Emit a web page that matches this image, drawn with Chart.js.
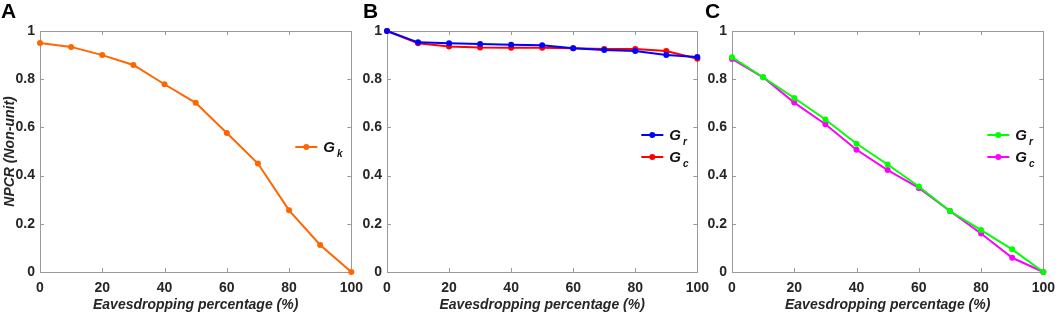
<!DOCTYPE html>
<html>
<head>
<meta charset="utf-8">
<script src="https://cdn.jsdelivr.net/npm/chart.js@4.4.1/dist/chart.umd.min.js"></script>
<style>
  html, body { margin: 0; padding: 0; background: #fff; overflow: hidden; }
  body { width: 1059px; height: 314px; position: relative; }
  .panel { position: absolute; top: 0; }
  .tag { position: absolute; top: 0; font: bold 21px "Liberation Sans", Arial, sans-serif; line-height: 1; color: #000; }
</style>
</head>
<body>
<div class="panel" style="left:0px"><canvas id="chartA" width="371" height="314"></canvas></div>
<div class="panel" style="left:350px"><canvas id="chartB" width="367" height="314"></canvas></div>
<div class="panel" style="left:700px"><canvas id="chartC" width="363" height="314"></canvas></div>
<div class="tag" style="left:1px">A</div>
<div class="tag" style="left:363px">B</div>
<div class="tag" style="left:705px">C</div>
<script>
(function() {
  'use strict';

  // eavesdropping percentage on the x axis
  var percent = [0, 10, 20, 30, 40, 50, 60, 70, 80, 90, 100];

  // panel A
  var gkValues = [0.950, 0.934, 0.900, 0.859, 0.779, 0.702, 0.577, 0.450, 0.256, 0.112, 0.0];
  // panel B
  var grValuesB = [1.0, 0.953, 0.949, 0.946, 0.943, 0.941, 0.928, 0.921, 0.917, 0.900, 0.892];
  var gcValuesB = [1.0, 0.949, 0.936, 0.932, 0.931, 0.930, 0.928, 0.925, 0.925, 0.917, 0.885];
  // panel C
  var grValuesC = [0.891, 0.808, 0.722, 0.633, 0.532, 0.446, 0.355, 0.253, 0.174, 0.094, 0.0];
  var gcValuesC = [0.884, 0.808, 0.703, 0.613, 0.507, 0.423, 0.349, 0.253, 0.160, 0.059, 0.0];

  var xTicks = [0, 20, 40, 60, 80, 100];
  var yTicks = [0, 0.2, 0.4, 0.6, 0.8, 1];
  var xTitle = 'Eavesdropping percentage (%)';
  var yTitle = 'NPCR (Non-unit)';

  var FONT = '"Liberation Sans", Arial, sans-serif';
  var TEXT = '#262626';
  var AXIS = '#9a9a9a';

  function points(vals) {
    return vals.map(function(v, i) { return { x: percent[i], y: v }; });
  }

  function series(label, sub, vals, color) {
    return {
      label: label,
      sub: sub,
      data: points(vals),
      borderColor: color,
      backgroundColor: color,
      borderWidth: 2,
      pointRadius: 3,
      pointBorderWidth: 0,
      pointBackgroundColor: color,
      tension: 0,
      clip: false
    };
  }

  // MATLAB style box with inward ticks, drawn under the lines
  var boxPlugin = {
    id: 'boxTicks',
    beforeDatasetsDraw: function(chart) {
      var ctx = chart.ctx, a = chart.chartArea;
      var xs = chart.scales.x, ys = chart.scales.y;
      ctx.save();
      ctx.strokeStyle = AXIS;
      ctx.lineWidth = 1;
      ctx.strokeRect(Math.round(a.left) + 0.5, Math.round(a.top) + 0.5,
        Math.round(a.right - a.left), Math.round(a.bottom - a.top));
      ctx.beginPath();
      xTicks.forEach(function(v) {
        var px = Math.round(xs.getPixelForValue(v)) + 0.5;
        ctx.moveTo(px, a.bottom); ctx.lineTo(px, a.bottom - 4);
        ctx.moveTo(px, a.top); ctx.lineTo(px, a.top + 4);
      });
      yTicks.forEach(function(v) {
        var py = Math.round(ys.getPixelForValue(v)) + 0.5;
        ctx.moveTo(a.left, py); ctx.lineTo(a.left + 4, py);
        ctx.moveTo(a.right, py); ctx.lineTo(a.right - 4, py);
      });
      ctx.stroke();
      ctx.restore();
    }
  };

  // legend with subscripted names
  var legendPlugin = {
    id: 'subLegend',
    afterDraw: function(chart) {
      var opts = chart.options.plugins.subLegend;
      var ctx = chart.ctx, a = chart.chartArea;
      ctx.save();
      chart.data.datasets.forEach(function(ds, i) {
        var y = a.top + opts.top + i * 22;
        var x0 = a.right - 56, x1 = a.right - 34;
        ctx.strokeStyle = ds.borderColor;
        ctx.lineWidth = 2;
        ctx.beginPath();
        ctx.moveTo(x0, y); ctx.lineTo(x1, y);
        ctx.stroke();
        ctx.fillStyle = ds.borderColor;
        ctx.beginPath();
        ctx.arc((x0 + x1) / 2, y, 3, 0, Math.PI * 2);
        ctx.fill();
        ctx.fillStyle = '#111';
        ctx.textBaseline = 'alphabetic';
        ctx.textAlign = 'left';
        ctx.font = 'italic bold 15px ' + FONT;
        var tx = a.right - 28;
        ctx.fillText(ds.label, tx, y + 5);
        var w = ctx.measureText(ds.label).width;
        ctx.font = 'italic bold 10px ' + FONT;
        ctx.fillText(ds.sub, tx + w + 2, y + 10);
      });
      ctx.restore();
    }
  };

  function makeChart(id, datasets, yWidth, showYTitle, legendTop) {
    var canvas = document.getElementById(id);
    var tickFont = { family: FONT, size: 14, weight: 'bold' };
    var titleFont = { family: FONT, size: 14, weight: 'bold', style: 'italic' };
    return new Chart(canvas.getContext('2d'), {
      type: 'line',
      data: { datasets: datasets },
      options: {
        responsive: false,
        animation: false,
        layout: { padding: { top: 31, right: 14, left: 0, bottom: 0 } },
        plugins: {
          legend: { display: false },
          tooltip: { enabled: false },
          subLegend: { top: legendTop }
        },
        scales: {
          x: {
            type: 'linear',
            min: 0,
            max: 100,
            afterBuildTicks: function(s) { s.ticks = xTicks.map(function(v) { return { value: v }; }); },
            grid: { display: false, drawTicks: false },
            border: { display: false },
            ticks: { font: tickFont, color: TEXT, padding: 8, maxRotation: 0, autoSkip: false },
            title: { display: true, text: xTitle, font: titleFont, color: TEXT, padding: { top: 0, bottom: 0 } },
            afterFit: function(s) { s.height = 42; }
          },
          y: {
            type: 'linear',
            min: 0,
            max: 1,
            afterBuildTicks: function(s) { s.ticks = yTicks.map(function(v) { return { value: v }; }); },
            grid: { display: false, drawTicks: false },
            border: { display: false },
            ticks: {
              font: tickFont, color: TEXT, padding: 5,
              callback: function(v) { return String(Math.round(v * 10) / 10); }
            },
            title: { display: showYTitle, text: yTitle, font: titleFont, color: TEXT, padding: { top: 2, bottom: 0 } },
            afterFit: function(s) { s.width = yWidth; }
          }
        }
      },
      plugins: [boxPlugin, legendPlugin]
    });
  }

  makeChart('chartA', [series('G', 'k', gkValues, '#ff6600')], 40, true, 116);
  makeChart('chartB', [
    series('G', 'r', grValuesB, '#0000ff'),
    series('G', 'c', gcValuesB, '#ff0000')
  ], 37, false, 104);
  makeChart('chartC', [
    series('G', 'r', grValuesC, '#00ff00'),
    series('G', 'c', gcValuesC, '#ff00ff')
  ], 32, false, 104);
})();
</script>
</body>
</html>
